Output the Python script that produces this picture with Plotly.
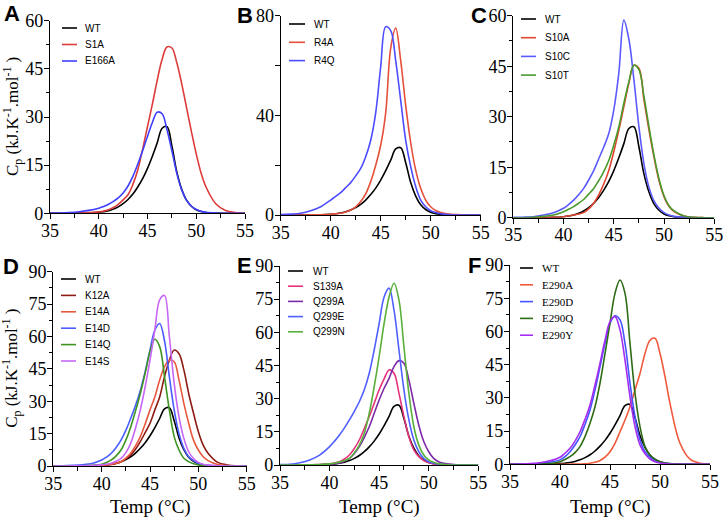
import plotly.graph_objects as go

W, H = 723, 518

# Temperature grid (°C)
T = [35, 36, 37, 38, 39, 40, 40.5, 41, 41.5, 42, 42.5, 43, 43.5, 44, 44.5, 45, 45.5, 46, 46.5,
     47, 47.5, 48, 48.5, 49, 49.5, 50, 50.5, 51, 52, 53, 54, 55]

# Cp values (kJ.K-1.mol-1)
WT = [0, 0, 0, 0.05, 0.1, 0.3, 0.5, 0.8, 1.3, 2.0, 3.0, 4.3, 6.0, 8.2, 10.8, 14.0, 17.8, 22.0, 26.5,
      27.0, 21.0, 13.0, 7.6, 4.1, 2.2, 1.1, 0.55, 0.25, 0.05, 0, 0, 0]
# Panel A
S1A = [0, 0, 0.05, 0.1, 0.2, 0.4, 0.7, 1.1, 1.8, 2.8, 4.2, 5.8, 9.0, 13.5, 20, 27, 34, 41.5, 48,
       51.8, 51.5, 47, 40.5, 33, 25.5, 18.5, 12.5, 8.2, 3.0, 0.9, 0.25, 0.05]
E166A = [0.05, 0.1, 0.25, 0.5, 0.9, 1.6, 2.1, 2.8, 3.7, 4.8, 6.3, 8.5, 11.5, 15.3, 19.5, 24, 28.3, 31.5, 31,
         26, 19.5, 12.5, 7.3, 4.1, 2.2, 1.2, 0.6, 0.3, 0.08, 0, 0, 0]
# Panel B
R4A = [0, 0, 0, 0.05, 0.1, 0.3, 0.5, 0.7, 1.2, 2, 3.3, 5.4, 8.5, 13.4, 20, 28, 41, 67, 75,
       62, 44, 29, 18, 10.7, 6, 3.3, 1.8, 1, 0.3, 0.1, 0, 0]
R4Q = [0.2, 0.35, 0.7, 1.7, 3.3, 6, 7.5, 9, 11, 13, 15.7, 18.7, 23.4, 30, 41, 59.5, 75.6, 74, 62,
       46, 30, 19.4, 11.4, 6, 3.3, 1.7, 1, 0.5, 0.1, 0, 0, 0]
# Panel C
S10A = [0, 0, 0, 0.05, 0.1, 0.3, 0.5, 0.8, 1.1, 1.5, 2.6, 4.3, 6.8, 10, 14, 19.6, 26, 33, 40,
        45.3, 44.4, 35, 26, 18, 11, 6.2, 3.3, 1.8, 0.5, 0.1, 0, 0]
S10C = [0.1, 0.15, 0.3, 0.8, 1.5, 2.8, 3.9, 5.2, 6.8, 8.7, 11.2, 14, 17.5, 21, 25, 32, 43, 58.7, 53,
        41, 27, 16, 9, 5, 2.8, 1.5, 0.8, 0.4, 0.1, 0, 0, 0]
S10T = [0, 0, 0.1, 0.4, 0.8, 1.8, 2.5, 3.3, 4.3, 5.4, 7, 8.7, 11, 13.7, 17, 21.6, 27, 34, 40.4,
        45.3, 44, 36, 27, 18.5, 11.5, 6.5, 3.5, 2, 0.5, 0.1, 0, 0]
# Panel D
K12A = [0, 0, 0, 0.05, 0.1, 0.3, 0.5, 0.7, 1.2, 2, 3.3, 5.1, 7.8, 11.3, 15.5, 19.8, 26, 32, 41.4,
        49, 53.7, 52, 44.5, 33.6, 24.4, 15.9, 9.7, 5.9, 1.7, 0.5, 0.1, 0]
E14A = [0, 0, 0, 0.05, 0.1, 0.3, 0.5, 0.8, 1.3, 2, 3.6, 5.9, 9.3, 13.6, 19.5, 26, 32, 39.8, 46,
        49, 48.3, 39.8, 29, 19.8, 12, 7.4, 4.3, 2.5, 0.7, 0.2, 0, 0]
E14D = [0.05, 0.1, 0.3, 0.6, 1.2, 2.8, 4.1, 5.9, 8.6, 12, 16.5, 22, 28, 35, 43.7, 53.7, 63, 66, 58,
        41.4, 26, 15, 8.2, 4.3, 2.5, 1.2, 0.6, 0.3, 0.05, 0, 0, 0]
E14Q = [0, 0, 0.05, 0.1, 0.3, 0.8, 1.6, 2.8, 4.7, 7.4, 12, 18, 25.5, 33.6, 43, 53, 58.7, 55.3, 41.4,
        26, 13.6, 7.4, 3.6, 2, 1, 0.5, 0.25, 0.1, 0, 0, 0, 0]
E14S = [0, 0, 0.05, 0.1, 0.2, 0.5, 0.8, 1.3, 2.2, 3.5, 6.2, 10.5, 17.5, 26, 36.7, 49, 63, 77, 79,
        60, 38.3, 22.8, 12.8, 6.6, 3.5, 1.7, 0.8, 0.4, 0.1, 0, 0, 0]
# Panel E
S139A = [0, 0, 0.05, 0.1, 0.2, 0.5, 0.9, 1.5, 2.7, 4.5, 7.5, 11.3, 16.5, 21.9, 27.9, 34, 39, 43, 41.5,
         32.4, 21.9, 12.8, 6.8, 3.8, 2, 1, 0.5, 0.3, 0.05, 0, 0, 0]
Q299A = [0, 0, 0, 0.05, 0.1, 0.3, 0.5, 0.9, 1.7, 3, 5.2, 8.3, 12.5, 17.3, 23.4, 29.4, 34.7, 39.2, 44.5,
         47.2, 46, 38.4, 27.9, 18, 10.6, 6, 3, 1.5, 0.4, 0.1, 0, 0]
Q299E = [0.2, 0.3, 1, 2.3, 4.5, 8.3, 10.8, 13.6, 16.8, 20.4, 24.3, 28.6, 34, 41.5, 52, 64, 76, 80, 70,
         52, 34, 20.4, 11.3, 6, 3, 1.5, 0.8, 0.4, 0.1, 0, 0, 0]
Q299N = [0, 0, 0.05, 0.1, 0.2, 0.5, 0.8, 1.3, 2, 3, 5.5, 9, 14.3, 23.4, 35.4, 49, 64, 76, 82.2,
         74.6, 53.5, 32.4, 17.3, 9, 4.5, 2.3, 1.2, 0.6, 0.1, 0, 0, 0]
# Panel F
E290A = [0, 0, 0, 0, 0, 0, 0, 0.05, 0.1, 0.1, 0.2, 0.5, 0.9, 1.7, 3.2, 5.7, 9.5, 14.7, 20,
         26, 33.6, 41, 50, 56, 56.9, 50, 39.6, 27.5, 9.5, 2.3, 0.5, 0.1]
E290D = [0, 0.1, 0.2, 0.4, 1, 2, 3.5, 5.7, 8.7, 12.5, 18, 24.5, 33.6, 44, 54.6, 63.7, 67.1, 65.2, 54.6,
         36.6, 21.5, 11, 5.7, 3.2, 1.7, 0.9, 0.5, 0.2, 0, 0, 0, 0]
E290Q = [0, 0, 0, 0.1, 0.3, 1.2, 2.2, 3.5, 5.3, 8, 12.5, 18.5, 26, 36.6, 50, 63.7, 77.2, 83.2, 77.2,
         54.6, 32, 17, 8, 4.2, 2.3, 1.2, 0.6, 0.3, 0, 0, 0, 0]
E290Y = [0, 0.1, 0.3, 0.7, 1.6, 3.2, 5, 7.2, 10.5, 14.7, 20.3, 26.8, 35.8, 45.6, 56, 64.4, 66.7, 60.7, 47,
         30.5, 17, 8.7, 4.7, 2.4, 1.2, 0.6, 0.3, 0.1, 0, 0, 0, 0]

X_TICKS = [35, 40, 45, 50, 55]

panels = [
    dict(letter="A", names=["WT", "S1A", "E166A"], series=[WT, S1A, E166A],
         colors=["#000000", "#de3b3b", "#3f3fff"], yticks=[0, 15, 30, 45, 60], yminor=7.5,
         xpx=(50, 245), ypx=(213.3, 20.7), leg=(62, 77, 83, 28, 16.5), lfont="Liberation Sans", lsize=10,
         letter_pos=(12, 14), ytitle=True, xtitle=False),
    dict(letter="B", names=["WT", "R4A", "R4Q"], series=[WT, R4A, R4Q],
         colors=["#000000", "#e4503a", "#4d4dff"], yticks=[0, 40, 80], yminor=20,
         xpx=(280.7, 480.7), ypx=(215, 15.7), leg=(289, 305, 312, 24, 18.3), lfont="Liberation Sans", lsize=10,
         letter_pos=(245, 15), ytitle=False, xtitle=False),
    dict(letter="C", names=["WT", "S10A", "S10C", "S10T"], series=[WT, S10A, S10C, S10T],
         colors=["#000000", "#e0452f", "#5a5aff", "#4a9a2c"], yticks=[0, 15, 30, 45, 60], yminor=7.5,
         xpx=(513.3, 714.3), ypx=(217.7, 15.7), leg=(521, 536, 543, 19, 18.7), lfont="Liberation Sans", lsize=10,
         letter_pos=(479, 15), ytitle=False, xtitle=False),
    dict(letter="D", names=["WT", "K12A", "E14A", "E14D", "E14Q", "E14S"],
         series=[WT, K12A, E14A, E14D, E14Q, E14S],
         colors=["#000000", "#8e1b14", "#e8583f", "#4a5dff", "#3d9421", "#c867f5"],
         yticks=[0, 15, 30, 45, 60, 75, 90], yminor=7.5,
         xpx=(53.3, 246.7), ypx=(466, 271.7), leg=(61, 76, 83, 279, 16.4), lfont="Liberation Sans", lsize=10,
         letter_pos=(11, 266), ytitle=True, xtitle=True),
    dict(letter="E", names=["WT", "S139A", "Q299A", "Q299E", "Q299N"],
         series=[WT, S139A, Q299A, Q299E, Q299N],
         colors=["#000000", "#e6337a", "#7d2aa8", "#5060ff", "#58b03a"],
         yticks=[0, 15, 30, 45, 60, 75, 90], yminor=7.5,
         xpx=(280, 478.3), ypx=(465, 266), leg=(288, 303, 311, 271, 15.2), lfont="Liberation Sans", lsize=10,
         letter_pos=(244, 265), ytitle=False, xtitle=True),
    dict(letter="F", names=["WT", "E290A", "E290D", "E290Q", "E290Y"],
         series=[WT, E290A, E290D, E290Q, E290Y],
         colors=["#000000", "#f05a3c", "#4455ff", "#2e6b16", "#a52cf2"],
         yticks=[0, 15, 30, 45, 60, 75, 90], yminor=7.5,
         xpx=(510, 710), ypx=(464.3, 265), leg=(520, 533, 540, 268, 16.8), lfont="Liberation Serif", lsize=11,
         letter_pos=(474, 265), ytitle=False, xtitle=True),
]


def px_x(v):
    return v / W


def px_y(v):
    return 1 - v / H


fig = go.Figure()
layout = dict(
    width=W, height=H, autosize=False, margin=dict(l=0, r=0, t=0, b=0, pad=0),
    paper_bgcolor="white", plot_bgcolor="white", showlegend=False,
    font=dict(family="Liberation Serif", color="black"),
)
shapes, annotations = [], []
tickfont = dict(family="Liberation Serif", size=18, color="black")

for i, p in enumerate(panels, start=1):
    xa = "xaxis" if i == 1 else f"xaxis{i}"
    ya = "yaxis" if i == 1 else f"yaxis{i}"
    xr = "x" if i == 1 else f"x{i}"
    yr = "y" if i == 1 else f"y{i}"
    ymax = p["yticks"][-1]
    for name, ys, col in zip(p["names"], p["series"], p["colors"]):
        fig.add_trace(go.Scatter(x=T, y=ys, name=name, mode="lines", xaxis=xr, yaxis=yr,
                                 line=dict(color=col, width=1.6, shape="spline", smoothing=1.0),
                                 hoverinfo="x+y+name"))
    layout[xa] = dict(domain=[px_x(p["xpx"][0]), px_x(p["xpx"][1])], anchor=yr, range=[35, 55],
                      tickvals=X_TICKS, showline=True, linecolor="black", linewidth=1.3,
                      ticks="outside", ticklen=5, tickwidth=1.3, tickcolor="black",
                      showgrid=False, zeroline=False, tickfont=tickfont, automargin=False,
                      ticklabeloverflow="allow", ticklabelstandoff=-4,
                      minor=dict(ticks="outside", dtick=2.5, tick0=35, ticklen=4, tickwidth=1.2,
                                 tickcolor="black", showgrid=False))
    layout[ya] = dict(domain=[px_y(p["ypx"][0]), px_y(p["ypx"][1])], anchor=xr, range=[0, ymax],
                      tickvals=p["yticks"], showline=True, linecolor="black", linewidth=1.3,
                      ticks="outside", ticklen=5, tickwidth=1.3, tickcolor="black",
                      showgrid=False, zeroline=False, tickfont=tickfont, automargin=False,
                      ticklabeloverflow="allow", ticklabelstandoff=-3,
                      minor=dict(ticks="outside", dtick=p["yminor"], tick0=0, ticklen=3 if p["yminor"] < 10 else 5,
                                 tickwidth=1.2, tickcolor="black", showgrid=False))
    # legend drawn as short line samples + labels
    lx0, lx1, tx, ly0, step = p["leg"]
    for k, (name, col) in enumerate(zip(p["names"], p["colors"])):
        yy = ly0 + k * step
        shapes.append(dict(type="line", xref="paper", yref="paper", x0=px_x(lx0), x1=px_x(lx1),
                           y0=px_y(yy), y1=px_y(yy), line=dict(color=col, width=1.6)))
        annotations.append(dict(text=name, xref="paper", yref="paper", x=px_x(tx), y=px_y(yy),
                                xanchor="left", yanchor="middle", showarrow=False,
                                font=dict(family=p["lfont"], size=p["lsize"], color="black")))
    # panel letter
    annotations.append(dict(text=f"<b>{p['letter']}</b>", xref="paper", yref="paper",
                            x=px_x(p["letter_pos"][0]), y=px_y(p["letter_pos"][1]),
                            xanchor="center", yanchor="middle", showarrow=False,
                            font=dict(family="Liberation Sans", size=22, color="black")))
    if p["ytitle"]:
        yc = (p["ypx"][0] + p["ypx"][1]) / 2
        annotations.append(dict(text="C<sub>p</sub> (kJ.K<sup>-1</sup>.mol<sup>-1</sup> )", xref="paper",
                                yref="paper", x=px_x(12), y=px_y(yc), textangle=-90,
                                xanchor="center", yanchor="middle", showarrow=False,
                                font=dict(family="Liberation Serif", size=17, color="black")))
    if p["xtitle"]:
        xc = (p["xpx"][0] + p["xpx"][1]) / 2
        annotations.append(dict(text="Temp (°C)", xref="paper", yref="paper", x=px_x(xc), y=px_y(507),
                                xanchor="center", yanchor="middle", showarrow=False,
                                font=dict(family="Liberation Serif", size=19, color="black")))

layout["shapes"] = shapes
layout["annotations"] = annotations
fig.update_layout(**layout)
fig.write_html("out.html", config={"displayModeBar": False},
               post_script="document.body.style.margin='0px';document.body.style.overflow='hidden';")
